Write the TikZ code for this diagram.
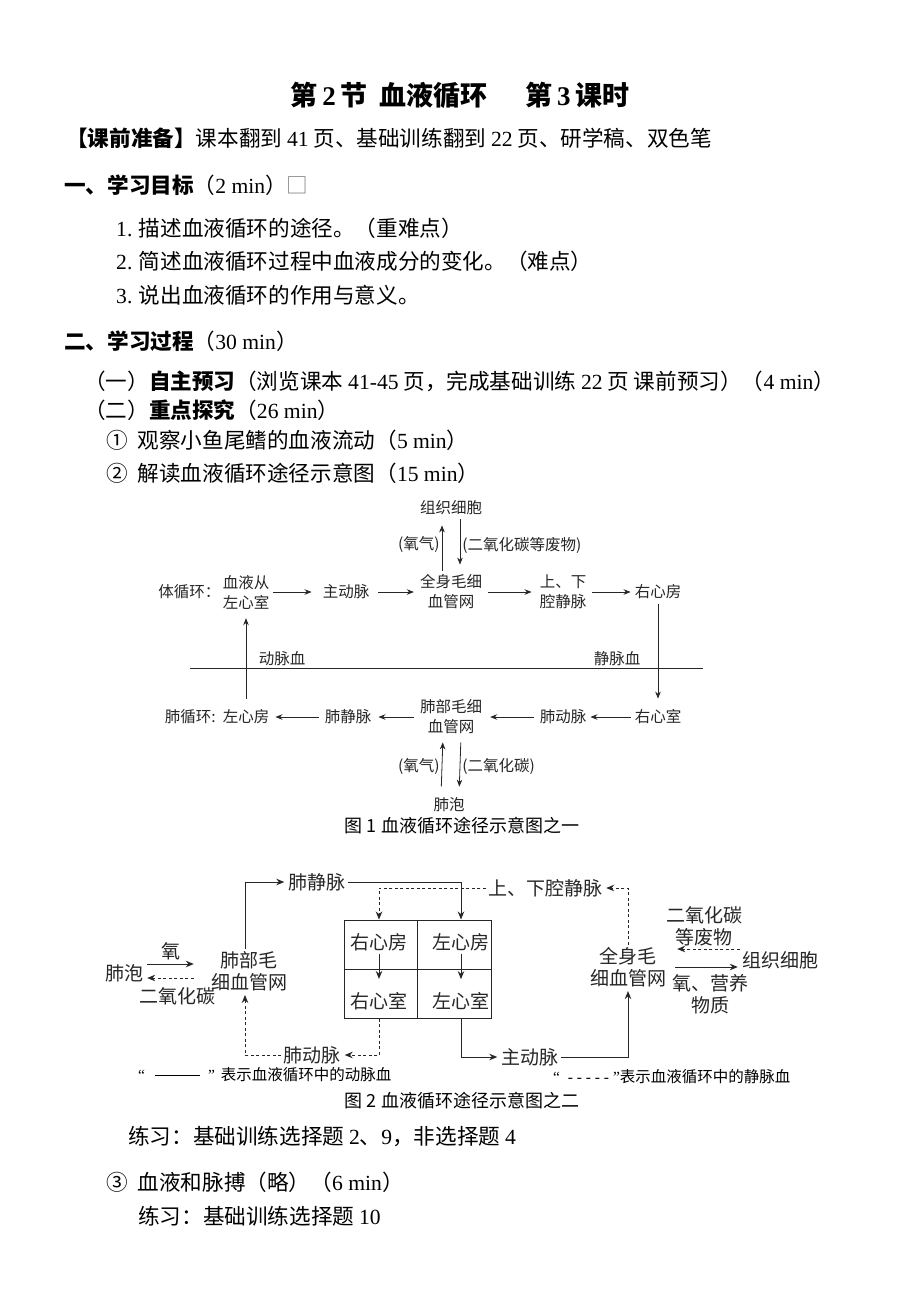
\documentclass[tikz,border=0pt]{standalone}
\usepackage{fontspec}
\setmainfont{Noto Sans CJK SC}
\newfontfamily\en{Liberation Serif}
\definecolor{ink}{HTML}{262626}
\usetikzlibrary{arrows.meta,positioning}

\begin{document}
\begin{tikzpicture}[x=1pt, y=-1pt,
  body/.style={anchor=west, inner sep=0pt, font=\fontsize{21.6}{25}\selectfont},
  dA/.style={font=\fontsize{15.5}{20}\selectfont, text=ink, align=center, inner sep=2pt},
  dB/.style={font=\fontsize{19}{22}\selectfont, text=ink, align=center, inner sep=2pt},
  arA/.style={draw=ink, line width=0.8pt, -{Stealth[length=7pt,width=5.5pt]}},
  arB/.style={draw=ink, line width=1pt, -{Stealth[length=8pt,width=6.5pt]}},
  veinB/.style={arB, dash pattern=on 3pt off 2.5pt},
  capn/.style={font=\fontsize{18}{21}\selectfont, inner sep=0pt},
  legend/.style={anchor=west, inner sep=0pt, font=\fontsize{15.5}{18}\selectfont}]
  \fill[white] (0,0) rectangle (920,1302);
  \useasboundingbox (0,0) rectangle (920,1302);

  % Heading and aims
  \node[font=\fontsize{27}{30}\selectfont\bfseries, inner sep=0pt] (title) at (460,95)
    {第\,{\en 2}\,节\ \ 血液循环\hspace{38pt}第\,{\en 3}\,课时};
  \node[body] (prep) at (66,138) {\textbf{【课前准备】}课本翻到 {\en 41} 页、基础训练翻到 {\en 22} 页、研学稿、双色笔};
  \node[body] (aims) at (64,185) {\textbf{一、学习目标}（{\en 2 min}）{\color{gray}□}};
  \node[body] (aim1) at (116,228) {{\en 1.} 描述血液循环的途径。（重难点）};
  \node[body] (aim2) at (116,261) {{\en 2.} 简述血液循环过程中血液成分的变化。（难点）};
  \node[body] (aim3) at (116,295) {{\en 3.} 说出血液循环的作用与意义。};

  % Process
  \node[body] (proc) at (64,341) {\textbf{二、学习过程}（{\en 30 min}）};
  \node[body] (self) at (84,381) {（一）\textbf{自主预习}（浏览课本 {\en 41-45} 页，完成基础训练 {\en 22} 页 课前预习）（{\en 4 min}）};
  \node[body] (key) at (84,410) {（二）\textbf{重点探究}（{\en 26 min}）};
  \node[body] (obs) at (106,440) {①\hspace{10pt}观察小鱼尾鳍的血液流动（{\en 5 min}）};
  \node[body] (read) at (106,473) {②\hspace{10pt}解读血液循环途径示意图（{\en 15 min}）};

  % Figure 1
  \node[dA] (tx1) at (451,508) {组织细胞};
  \node[dA] (zxs1) at (246,592) {血液从\\左心室};
  \node[dA, anchor=east, inner sep=0pt] (tixh) at (zxs1.west) {体循环：};
  \node[dA] (zdm1) at (346,592) {主动脉};
  \node[dA] (qsm1) at (451,592) {全身毛细\\血管网};
  \node[dA] (sxq1) at (563,592) {上、下\\腔静脉};
  \node[dA] (yxf1) at (658,592) {右心房};
  \node[dA] (yxs1) at (658,717) {右心室};
  \node[dA] (fdm1) at (563,717) {肺动脉};
  \node[dA] (fbm1) at (451,717) {肺部毛细\\血管网};
  \node[dA] (fjm1) at (348,717) {肺静脉};
  \node[dA] (zxf1) at (246,717) {左心房};
  \node[dA, anchor=east, inner sep=0pt] (feixh) at (zxf1.west) {肺循环: };
  \node[dA] (fp1) at (449,805) {肺泡};

  \draw[arA, shorten <=2pt, shorten >=9pt] (zxs1) -- (zdm1);
  \draw[arA, shorten <=7pt, shorten >=4pt] (zdm1) -- (qsm1);
  \draw[arA, shorten <=4pt, shorten >=6pt] (qsm1) -- (sxq1);
  \draw[arA, shorten <=4pt, shorten >=2pt] (sxq1) -- (yxf1);
  \draw[arA, shorten <=3pt, shorten >=9pt] (yxf1.south) -- (yxs1.north);
  \draw[arA, shorten <=2pt, shorten >=2pt] (yxs1) -- (fdm1);
  \draw[arA, shorten <=4pt, shorten >=6pt] (fdm1) -- (fbm1);
  \draw[arA, shorten <=4pt, shorten >=5pt] (fbm1) -- (fjm1);
  \draw[arA, shorten <=4pt, shorten >=4pt] (fjm1) -- (zxf1);
  \draw[arA, shorten <=9pt, shorten >=7pt] (zxf1.north) -- (zxs1.south);
  \draw[arA, shorten <=2pt, shorten >=8pt] ([xshift=-9pt]qsm1.north) -- ([xshift=-9pt]tx1.south)
    node[midway, left, dA] {(氧气)};
  \draw[arA, shorten <=2pt, shorten >=8pt] ([xshift=9pt]tx1.south) -- ([xshift=9pt]qsm1.north)
    node[midway, right, dA] {(二氧化碳等废物)};
  \draw[arA, shorten <=9pt, shorten >=6pt] ([xshift=-8pt]fp1.north) -- ([xshift=-8pt]fbm1.south)
    node[midway, left, dA] {(氧气)};
  \draw[arA, shorten <=6pt, shorten >=9pt] ([xshift=10pt]fbm1.south) -- ([xshift=10pt]fp1.north)
    node[midway, right, dA] {(二氧化碳)};

  % divider between arterial and venous blood
  \draw[ink, line width=0.8pt] (190,668) -- (703,668);
  \node[dA] (dmx) at (282,659) {动脉血};
  \node[dA] (jmx) at (617,659) {静脉血};

  \node[capn] (cap1) at (462,826) {图 {1} 血液循环途径示意图之一};

  % Figure 2
  \node[dB] (fjm2) at (317,882) {肺静脉};
  \node[dB] (fbm2) at (249,971) {肺部毛\\细血管网};
  \node[dB] (fp2) at (124,973) {肺泡};
  \node[draw=ink, line width=1pt, minimum width=147pt, minimum height=98pt, inner sep=0pt] (heart) at (417.5,969) {};
  \draw[ink, line width=1pt] (heart.north) -- (heart.south);
  \draw[ink, line width=1pt] (heart.west) -- (heart.east);
  \node[dB] (yxf2) at (379,942) {右心房};
  \node[dB] (zxf2) at (461,942) {左心房};
  \node[dB] (yxs2) at (379,1001) {右心室};
  \node[dB] (zxs2) at (461,1001) {左心室};
  \node[dB] (sxq2) at (545,888) {上、下腔静脉};
  \node[dB] (qsm2) at (628,967) {全身毛\\细血管网};
  \node[dB] (tx2) at (780,960) {组织细胞};
  \node[dB] (zdm2) at (530,1057) {主动脉};
  \node[dB] (fdm2) at (312,1055) {肺动脉};

  \draw[arB, shorten >=2pt] ([xshift=-4pt]fbm2.north) |- (fjm2.west);
  \draw[arB] (fjm2.east) -| (zxf2 |- heart.north);
  \draw[veinB] (sxq2.west) -| (yxf2 |- heart.north);
  \draw[arB, shorten <=1pt, shorten >=11pt] (yxf2) -- (yxs2);
  \draw[arB, shorten <=1pt, shorten >=11pt] (zxf2) -- (zxs2);
  \draw[arB, shorten >=2pt] (zxs2 |- heart.south) |- (zdm2.west);
  \draw[arB, shorten >=2pt] (zdm2.east) -| (qsm2.south);
  \draw[veinB, shorten >=2pt] (qsm2.north) |- (sxq2.east);
  \draw[veinB, shorten >=2pt] (yxs2 |- heart.south) |- (fdm2.east);
  \draw[veinB, shorten >=2pt] (fdm2.west) -| ([xshift=-4pt]fbm2.south);
  \draw[arB, shorten <=2pt, shorten >=15pt] ([yshift=9pt]fp2.east) -- ([yshift=9pt]fp2.east -| fbm2.west)
    node[midway, above=1pt, dB, xshift=-6pt] {氧};
  \draw[veinB, shorten <=15pt, shorten >=2pt] ([yshift=-5pt]fp2.east -| fbm2.west) -- ([yshift=-5pt]fp2.east)
    node[midway, below=7pt, dB] {二氧化碳};
  \draw[veinB, shorten <=0pt, shorten >=9pt] ([yshift=11pt]tx2.west) -- ([yshift=11pt]tx2.west -| qsm2.east)
    node[midway, above=0pt, dB] {二氧化碳\\等废物};
  \draw[arB, shorten <=7pt, shorten >=2pt] (qsm2.east) -- (qsm2.east -| tx2.west)
    node[midway, below=5pt, dB, xshift=6pt] {氧、营养\\物质};

  % legend
  \node[legend] (lg1) at (138,1075) {{\en “}\hspace{10pt}\rule[0.32em]{45pt}{0.6pt}\hspace{8pt}{\en ”}\hspace{6pt}表示血液循环中的动脉血};
  \node[legend] (lg2) at (553,1077) {{\en “\ \ - - - - -\ ”}表示血液循环中的静脉血};
  \node[capn] (cap2) at (462,1101) {图 {2} 血液循环途径示意图之二};

  % Practice
  \node[body] (prac1) at (128,1137) {练习：基础训练选择题 {\en 2}、{\en 9}，非选择题 {\en 4}};
  \node[body] (pulse) at (106,1182) {③\hspace{10pt}血液和脉搏（略）（{\en 6 min}）};
  \node[body] (prac2) at (138,1216) {练习：基础训练选择题 {\en 10}};
\end{tikzpicture}
\end{document}
